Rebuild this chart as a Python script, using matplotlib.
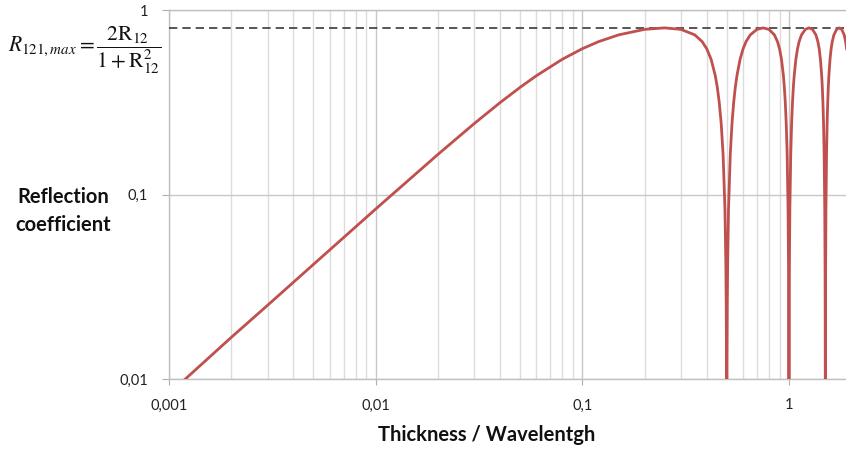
import matplotlib
matplotlib.use("Agg")
import matplotlib.pyplot as plt
from matplotlib.ticker import FixedLocator, NullFormatter

# Données (épaisseur / longueur d'onde, coefficient de réflexion)
epaisseur = [0.0012, 0.002, 0.003, 0.005, 0.01, 0.02, 0.03, 0.04, 0.05, 0.06, 0.08,
             0.1, 0.12, 0.15, 0.2, 0.25, 0.3, 0.35, 0.38, 0.4, 0.42, 0.44, 0.45,
             0.46, 0.47, 0.48, 0.49, 0.495, 0.497, 0.4985, 0.5,
             0.5015, 0.503, 0.505, 0.51, 0.52, 0.53, 0.54, 0.55, 0.56, 0.58, 0.6,
             0.62, 0.65, 0.7, 0.75, 0.8, 0.85, 0.88, 0.9, 0.92, 0.94, 0.95, 0.96,
             0.97, 0.98, 0.99, 0.995, 0.997, 0.9985, 1.0,
             1.0015, 1.003, 1.005, 1.01, 1.02, 1.03, 1.04, 1.05, 1.06, 1.08, 1.1,
             1.12, 1.15, 1.2, 1.25, 1.3, 1.35, 1.38, 1.4, 1.42, 1.44, 1.45, 1.46,
             1.47, 1.48, 1.49, 1.495, 1.497, 1.4985, 1.5,
             1.5015, 1.503, 1.505, 1.51, 1.52, 1.53, 1.54, 1.55, 1.56, 1.58, 1.6,
             1.62, 1.65, 1.7, 1.75, 1.8, 1.85, 1.88, 1.9]
reflexion = [0.0100, 0.0168, 0.0251, 0.0418, 0.0834, 0.1648, 0.2424, 0.3148, 0.3809, 0.4406, 0.5405,
             0.6169, 0.6741, 0.7333, 0.7852, 0.8, 0.7852, 0.7333, 0.6741, 0.6169, 0.5405, 0.4406, 0.3809,
             0.3148, 0.2424, 0.1648, 0.0834, 0.0418, 0.0251, 0.0126, 0.001,
             0.0126, 0.0251, 0.0418, 0.0834, 0.1648, 0.2424, 0.3148, 0.3809, 0.4406, 0.5405, 0.6169,
             0.6741, 0.7333, 0.7852, 0.8, 0.7852, 0.7333, 0.6741, 0.6169, 0.5405, 0.4406, 0.3809, 0.3148,
             0.2424, 0.1648, 0.0834, 0.0418, 0.0251, 0.0126, 0.001,
             0.0126, 0.0251, 0.0418, 0.0834, 0.1648, 0.2424, 0.3148, 0.3809, 0.4406, 0.5405, 0.6169,
             0.6741, 0.7333, 0.7852, 0.8, 0.7852, 0.7333, 0.6741, 0.6169, 0.5405, 0.4406, 0.3809, 0.3148,
             0.2424, 0.1648, 0.0834, 0.0418, 0.0251, 0.0126, 0.001,
             0.0126, 0.0251, 0.0418, 0.0834, 0.1648, 0.2424, 0.3148, 0.3809, 0.4406, 0.5405, 0.6169,
             0.6741, 0.7333, 0.7852, 0.8, 0.7852, 0.7333, 0.6741, 0.6169]
r_max = 0.8

x_ticks = [0.001, 0.01, 0.1, 1]
x_labels = ["0,001", "0,01", "0,1", "1"]
y_ticks = [0.01, 0.1, 1]
y_labels = ["0,01", "0,1", "1"]

plt.rcParams['font.family'] = ['Lato', 'DejaVu Sans']
plt.rcParams['mathtext.fontset'] = 'stix'

fig = plt.figure(figsize=(8.46, 4.5), dpi=100)
ax = fig.add_axes([169 / 846, 1 - 379 / 450, 1 - 169 / 846, (379 - 10) / 450])

ax.set_xscale("log")
ax.set_yscale("log")
ax.set_xlim(0.001, 1.888)
ax.set_ylim(0.01, 1)

# grille
minor_x = [m * 10.0 ** e for e in (-3, -2, -1, 0) for m in range(2, 10)]
ax.xaxis.set_minor_locator(FixedLocator(minor_x))
ax.xaxis.set_minor_formatter(NullFormatter())
ax.yaxis.set_minor_locator(FixedLocator([]))
ax.set_xticks(x_ticks)
ax.set_xticklabels(x_labels)
ax.set_yticks(y_ticks)
ax.set_yticklabels(y_labels)
ax.grid(which="minor", axis="x", color="#dcdcdc", linewidth=1.0)
ax.grid(which="major", axis="both", color="#c8c8c8", linewidth=1.0)
ax.set_axisbelow(True)

ax.spines["right"].set_visible(False)
for s in ["left", "bottom", "top"]:
    ax.spines[s].set_color("#c0c0c0")
    ax.spines[s].set_linewidth(1.0)
ax.tick_params(axis="x", which="major", length=4, color="#b0b0b0", pad=10, labelsize=10.5, labelcolor="#222222")
ax.tick_params(axis="x", which="minor", length=0)
ax.tick_params(axis="y", which="major", length=5, color="#b0b0b0", pad=10, labelsize=10.5, labelcolor="#222222")

ax.axhline(r_max, color="#3a3a3a", linestyle=(0, (5, 3)), linewidth=1.2, zorder=3)
ax.plot(epaisseur, reflexion, color="#c0504d", linewidth=2.0, zorder=4, solid_joinstyle="round")

fig.text(487 / 846, 1 - 435 / 450, "Thickness / Wavelentgh", ha="center", va="center",
         fontsize=14.5, fontweight="bold", color="#111111")
fig.text(63 / 846, 1 - 211 / 450, "Reflection\ncoefficient", ha="center", va="center",
         fontsize=14.5, fontweight="bold", color="#111111", linespacing=1.5)
fig.text(8 / 846, 1 - 50 / 450,
         r"$R_{121,max}=\dfrac{2\mathrm{R}_{12}}{1+\mathrm{R}_{12}^{2}}$",
         ha="left", va="center", fontsize=15.5, color="#111111")

fig.savefig("out.png", dpi=100)
